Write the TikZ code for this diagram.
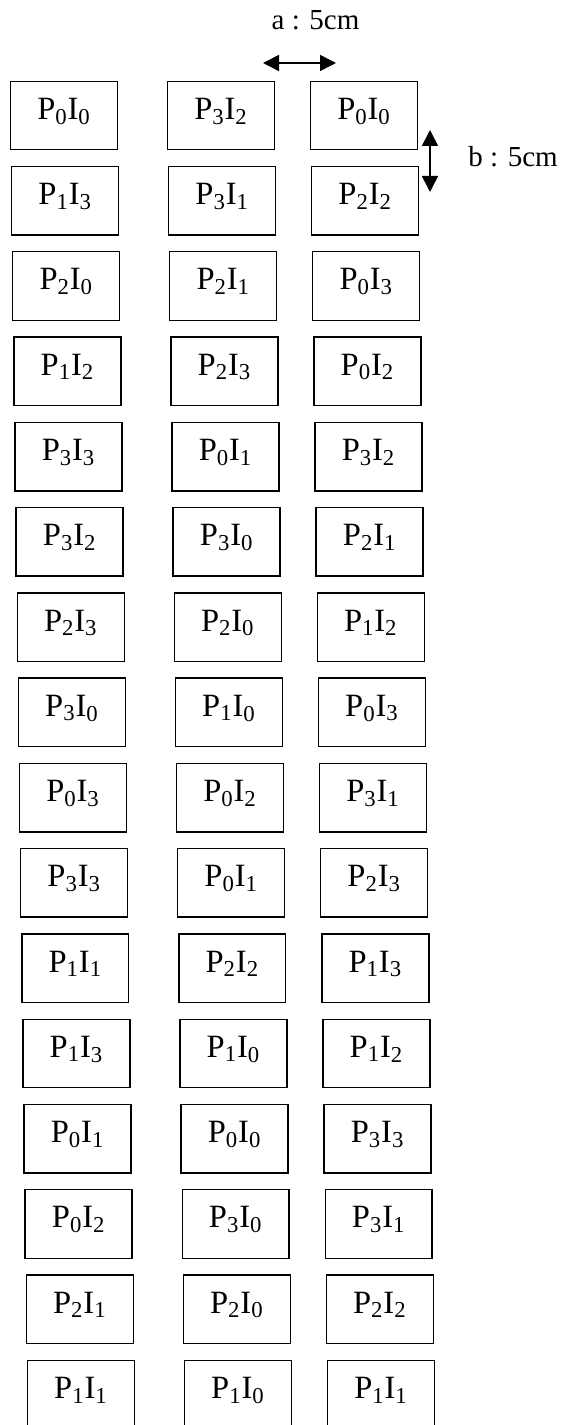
\documentclass[tikz,border=0pt]{standalone}
\usepackage{fontspec}
\setmainfont{Liberation Serif}
\usetikzlibrary{arrows.meta}
\newcommand{\pilab}[2]{P\textsubscript{#1}I\textsubscript{#2}}
\begin{document}
\begin{tikzpicture}[x=0.02cm, y=-0.02cm,
			cell/.style={draw, line width=0.8pt, minimum width=2.14cm, minimum height=1.37cm, inner sep=0pt,
				text height=0.7em, text depth=0.25em, font=\fontsize{18.5}{20}\selectfont},
			dimarrow/.style={line width=0.9pt, {Triangle[length=0.32cm, width=0.32cm]}-{Triangle[length=0.32cm, width=0.32cm]}},
			note/.style={anchor=base, font=\fontsize{16.5}{18}\selectfont}]
			\useasboundingbox (0,0) rectangle (561,1425);
			% three columns, sixteen rows
			\foreach \pa/\ia/\pb/\ib/\pc/\ic [count=\r from 1] in {0/0/3/2/0/0, 1/3/3/1/2/2, 2/0/2/1/0/3, 1/2/2/3/0/2,
					3/3/0/1/3/2, 3/2/3/0/2/1, 2/3/2/0/1/2, 3/0/1/0/0/3, 0/3/0/2/3/1, 3/3/0/1/2/3, 1/1/2/2/1/3,
					1/3/1/0/1/2, 0/1/0/0/3/3, 0/2/3/0/3/1, 2/1/2/0/2/2, 1/1/1/0/1/1} {
				\node[cell] (a\r) at (64+1.13*\r-1.13, 115.5+85.27*\r-85.27) {\pilab{\pa}{\ia}};
				\node[cell] (b\r) at (221+1.13*\r-1.13, 115.5+85.27*\r-85.27) {\pilab{\pb}{\ib}};
				\node[cell] (c\r) at (364+1.13*\r-1.13, 115.5+85.27*\r-85.27) {\pilab{\pc}{\ic}};
			}
			\coordinate (aL) at (263,63); \coordinate (aR) at (336,63);
			\coordinate (bT) at (430,130); \coordinate (bB) at (430,192);
			\draw[dimarrow] (aL) -- (aR);
			\draw[dimarrow] (bT) -- (bB);
			\node[note] (alab) at (315.5,30) {a : 5cm};
			\node[note] (blab) at (513,167) {b : 5cm};
	\end{tikzpicture}
\end{document}
